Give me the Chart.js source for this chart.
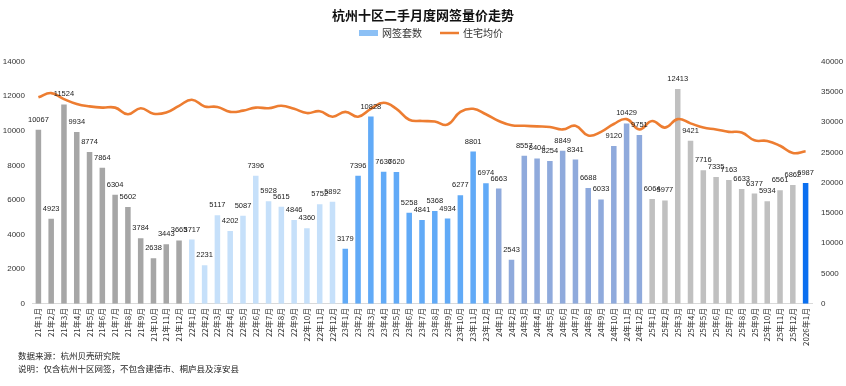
<!DOCTYPE html>
<html>
<head>
<meta charset="utf-8">
<script src="https://cdn.jsdelivr.net/npm/chart.js@4"></script>
<style>
  html, body { margin: 0; padding: 0; background: #fff; }
  #wrap { position: relative; width: 846px; height: 386px; }
  #note { position: absolute; left: 18px; top: 349px; font: 8.5px "Noto Sans CJK SC", sans-serif; color: #222; line-height: 13px; }
</style>
</head>
<body>
<div id="wrap">
  <canvas id="chart" width="846" height="386"></canvas>
  <div id="note">数据来源：杭州贝壳研究院<br>说明：仅含杭州十区网签，不包含建德市、桐庐县及淳安县</div>
</div>
<script>
const months = [
    '21年1月', '21年2月', '21年3月', '21年4月', '21年5月', '21年6月', '21年7月', '21年8月', '21年9月', '21年10月', '21年11月', '21年12月',
    '22年1月', '22年2月', '22年3月', '22年4月', '22年5月', '22年6月', '22年7月', '22年8月', '22年9月', '22年10月', '22年11月', '22年12月',
    '23年1月', '23年2月', '23年3月', '23年4月', '23年5月', '23年6月', '23年7月', '23年8月', '23年9月', '23年10月', '23年11月', '23年12月',
    '24年1月', '24年2月', '24年3月', '24年4月', '24年5月', '24年6月', '24年7月', '24年8月', '24年9月', '24年10月', '24年11月', '24年12月',
    '25年1月', '25年2月', '25年3月', '25年4月', '25年5月', '25年6月', '25年7月', '25年8月', '25年9月', '25年10月', '25年11月', '25年12月',
    '2026年1月'
];

// 网签套数
const deals = [
    10067, 4923, 11524, 9934, 8774, 7864, 6304, 5602, 3784, 2638, 3443, 3665,
    3717, 2231, 5117, 4202, 5087, 7396, 5928, 5615, 4846, 4360, 5752, 5892,
    3179, 7396, 10828, 7636, 7620, 5258, 4841, 5368, 4934, 6277, 8801, 6974,
    6663, 2543, 8557, 8404, 8254, 8849, 8341, 6688, 6033, 9120, 10429, 9751,
    6064, 5977, 12413, 9421, 7716, 7335, 7163, 6633, 6377, 5934, 6561, 6862,
    6987
];

// 住宅均价
const prices = [
    34100, 34800, 33800, 33000, 32600, 32400, 32400, 31300, 32300, 31400, 31600, 32700,
    33700, 32600, 32500, 31700, 31900, 32400, 32300, 32700, 32200, 31500, 31800, 30900,
    31700, 30900, 32200, 33200, 32200, 30400, 30200, 30100, 29600, 31700, 32200, 31300,
    30200, 29500, 29400, 29300, 29200, 28800, 29400, 27800, 28400, 29700, 30500, 28800,
    30200, 29100, 30500, 29800, 29100, 28800, 28400, 28300, 27000, 26900, 26100, 24900,
    25200
];

const leftTicks = [0, 2000, 4000, 6000, 8000, 10000, 12000, 14000];
const rightTicks = [0, 5000, 10000, 15000, 20000, 25000, 30000, 35000, 40000];

// one colour per year
const yearColors = {
    '21': '#a6a6a6',
    '22': '#c6e0fa',
    '23': '#61aaf7',
    '24': '#8faadc',
    '25': '#c0c0c0',
    '2026': '#0a6ff0'
};
const barColors = months.map(m => yearColors[m.split('年')[0]]);

const legendItems = [
    { text: '网签套数', color: '#8cc0f5', kind: 'box' },
    { text: '住宅均价', color: '#ed7d31', kind: 'line' }
];

// value labels above the bars
const barLabels = {
    id: 'barLabels',
    afterDatasetsDraw(chart) {
        const ctx = chart.ctx;
        const meta = chart.getDatasetMeta(0);
        ctx.save();
        ctx.font = '7.5px "Liberation Sans", Arial, sans-serif';
        ctx.fillStyle = '#222';
        ctx.textAlign = 'center';
        ctx.textBaseline = 'middle';
        meta.data.forEach((bar, i) => {
            ctx.fillText(deals[i], bar.x, bar.y - 10);
        });
        ctx.restore();
    }
};

// legend drawn under the title: a box for the bars, a short line for the price
const topLegend = {
    id: 'topLegend',
    afterDraw(chart) {
        const ctx = chart.ctx;
        const y = 33;
        ctx.save();
        ctx.font = '10px "Noto Sans CJK SC", sans-serif';
        ctx.textBaseline = 'middle';
        ctx.fillStyle = '#333';
        const gap = 18;
        const sym = 19;
        const widths = legendItems.map(it => sym + 4 + ctx.measureText(it.text).width);
        const total = widths.reduce((a, b) => a + b, 0) + gap;
        let x = chart.width / 2 - total / 2 + 8;
        legendItems.forEach((it, i) => {
            if (it.kind === 'box') {
                ctx.fillStyle = it.color;
                ctx.fillRect(x, y - 3, sym, 6);
            } else {
                ctx.strokeStyle = it.color;
                ctx.lineWidth = 2.5;
                ctx.beginPath();
                ctx.moveTo(x, y);
                ctx.lineTo(x + sym, y);
                ctx.stroke();
            }
            ctx.fillStyle = '#333';
            ctx.fillText(it.text, x + sym + 4, y);
            x += widths[i] + gap;
        });
        ctx.restore();
    }
};

const ctx = document.getElementById('chart').getContext('2d');
const chart = new Chart(ctx, {
    type: 'bar',
    data: {
        labels: months,
        datasets: [{
            label: '网签套数',
            data: deals,
            backgroundColor: barColors,
            borderWidth: 0,
            barPercentage: 0.9,
            categoryPercentage: 0.48,
            yAxisID: 'y',
            order: 2
        }, {
            type: 'line',
            label: '住宅均价',
            data: prices,
            borderColor: '#ed7d31',
            backgroundColor: '#ed7d31',
            borderWidth: 2.6,
            pointRadius: 0,
            tension: 0.45,
            yAxisID: 'y1',
            order: 1
        }]
    },
    options: {
        responsive: false,
        animation: false,
        layout: {
            padding: { top: 7, bottom: 36, left: 0, right: 0 }
        },
        scales: {
            x: {
                offset: true,
                grid: { display: false, drawTicks: false },
                border: { display: true, color: '#d9d9d9' },
                ticks: {
                    autoSkip: false,
                    minRotation: 90,
                    maxRotation: 90,
                    padding: 4,
                    color: '#333',
                    font: { size: 8, family: '"Noto Sans CJK SC", sans-serif' }
                }
            },
            y: {
                position: 'left',
                min: 0,
                max: 14000,
                afterBuildTicks: axis => { axis.ticks = leftTicks.map(v => ({ value: v })); },
                afterFit: axis => { axis.width = 32; },
                grid: { display: false, drawTicks: false },
                border: { display: false },
                ticks: {
                    padding: 7,
                    color: '#333',
                    callback: v => String(v),
                    font: { size: 8, family: '"Liberation Sans", Arial, sans-serif' }
                }
            },
            y1: {
                position: 'right',
                min: 0,
                max: 40000,
                afterBuildTicks: axis => { axis.ticks = rightTicks.map(v => ({ value: v })); },
                afterFit: axis => { axis.width = 34; },
                grid: { display: false, drawTicks: false },
                border: { display: false },
                ticks: {
                    padding: 9,
                    color: '#333',
                    callback: v => String(v),
                    font: { size: 8, family: '"Liberation Sans", Arial, sans-serif' }
                }
            }
        },
        plugins: {
            title: {
                display: true,
                text: '杭州十区二手月度网签量价走势',
                color: '#111',
                font: { size: 13, weight: 'bold', family: '"Noto Sans CJK SC", sans-serif' },
                padding: { top: 0, bottom: 39 }
            },
            legend: { display: false },
            tooltip: { enabled: false }
        }
    },
    plugins: [barLabels, topLegend]
});
</script>
</body>
</html>
